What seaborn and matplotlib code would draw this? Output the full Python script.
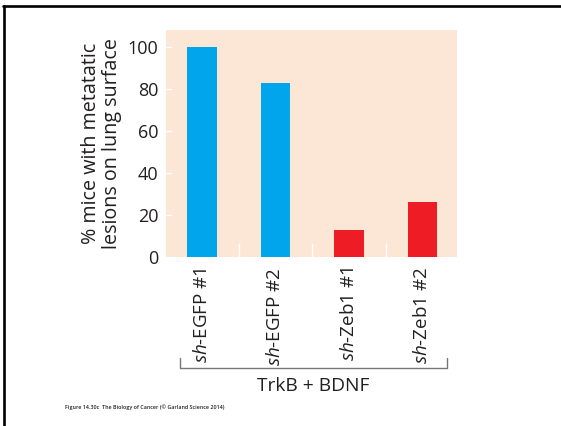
import matplotlib.pyplot as plt
import matplotlib.transforms as mtransforms
from matplotlib.lines import Line2D
import seaborn as sns

groups = ["sh-EGFP #1", "sh-EGFP #2", "sh-Zeb1 #1", "sh-Zeb1 #2"]
tick_labels = [r"$\mathit{sh}$-EGFP #1", r"$\mathit{sh}$-EGFP #2",
               r"$\mathit{sh}$-Zeb1 #1", r"$\mathit{sh}$-Zeb1 #2"]
pct_mice = [100, 83, 13, 26]
bar_colors = ["#00A5EB", "#00A5EB", "#EE1C25", "#EE1C25"]
y_ticks = [0, 20, 40, 60, 80, 100]

sns.set_theme(style="white")
plt.rcParams["font.family"] = ["Open Sans", "DejaVu Sans"]
plt.rcParams["mathtext.fontset"] = "custom"
plt.rcParams["mathtext.rm"] = "Open Sans"
plt.rcParams["mathtext.it"] = "Open Sans:italic"

fig = plt.figure(figsize=(5.61, 4.26), dpi=100)
ax = fig.add_axes([0.2959, 0.3967, 0.5187, 0.533])
ax.set_facecolor("#FCE6D6")

sns.barplot(x=groups, y=pct_mice, hue=groups, palette=bar_colors,
            width=0.4, legend=False, saturation=1, linewidth=0, ax=ax)

ax.set_xlim(-0.49, 3.47)
ax.set_ylim(0, 108)
for s in ax.spines.values():
    s.set_visible(False)

ax.set_yticks(y_ticks)
ax.tick_params(axis="y", direction="in", length=4, width=1, color="white",
               labelsize=13, pad=5.5, left=True, labelcolor="#231F20")
ax.set_xticks(range(len(groups)))
ax.set_xticklabels(tick_labels, rotation=90, va="top", ha="center")
ax.set_xticks([0.5, 1.5, 2.5], minor=True)
ax.tick_params(axis="x", which="major", length=0, pad=7.5, labelsize=13.5,
               labelcolor="#231F20")
ax.tick_params(axis="x", which="minor", direction="in", length=10, width=1,
               color="white", bottom=True)

ax.set_xlabel("")
ax.set_ylabel("% mice with metatatic\nlesions on lung surface", fontsize=14.2,
              labelpad=4, color="#231F20", linespacing=1.05)

# bracket under the group labels
trans = mtransforms.blended_transform_factory(ax.transData, ax.transAxes)
bx0, bx1, by0, by1 = -0.30, 3.33, -0.489, -0.445
ax.add_line(Line2D([bx0, bx0, bx1, bx1], [by1, by0, by0, by1], transform=trans,
                   color="#777777", lw=1, clip_on=False))
ax.text((bx0 + bx1) / 2, -0.568, "TrkB + BDNF", transform=trans, ha="center",
        va="center", fontsize=13.8, color="#231F20")

fig.text(0.116, 0.0446, "Figure 14.30c  The Biology of Cancer (\u00a9 Garland Science 2014)",
         fontsize=3.9, fontweight="semibold", color="#231F20", va="center")

# frame lines at top and left edges
fig.add_artist(Line2D([0.0071, 0.0071], [0, 0.987], color="black", lw=1.9))
fig.add_artist(Line2D([0.0055, 1], [0.986, 0.986], color="black", lw=1.9))

fig.savefig("out.png", dpi=100)
